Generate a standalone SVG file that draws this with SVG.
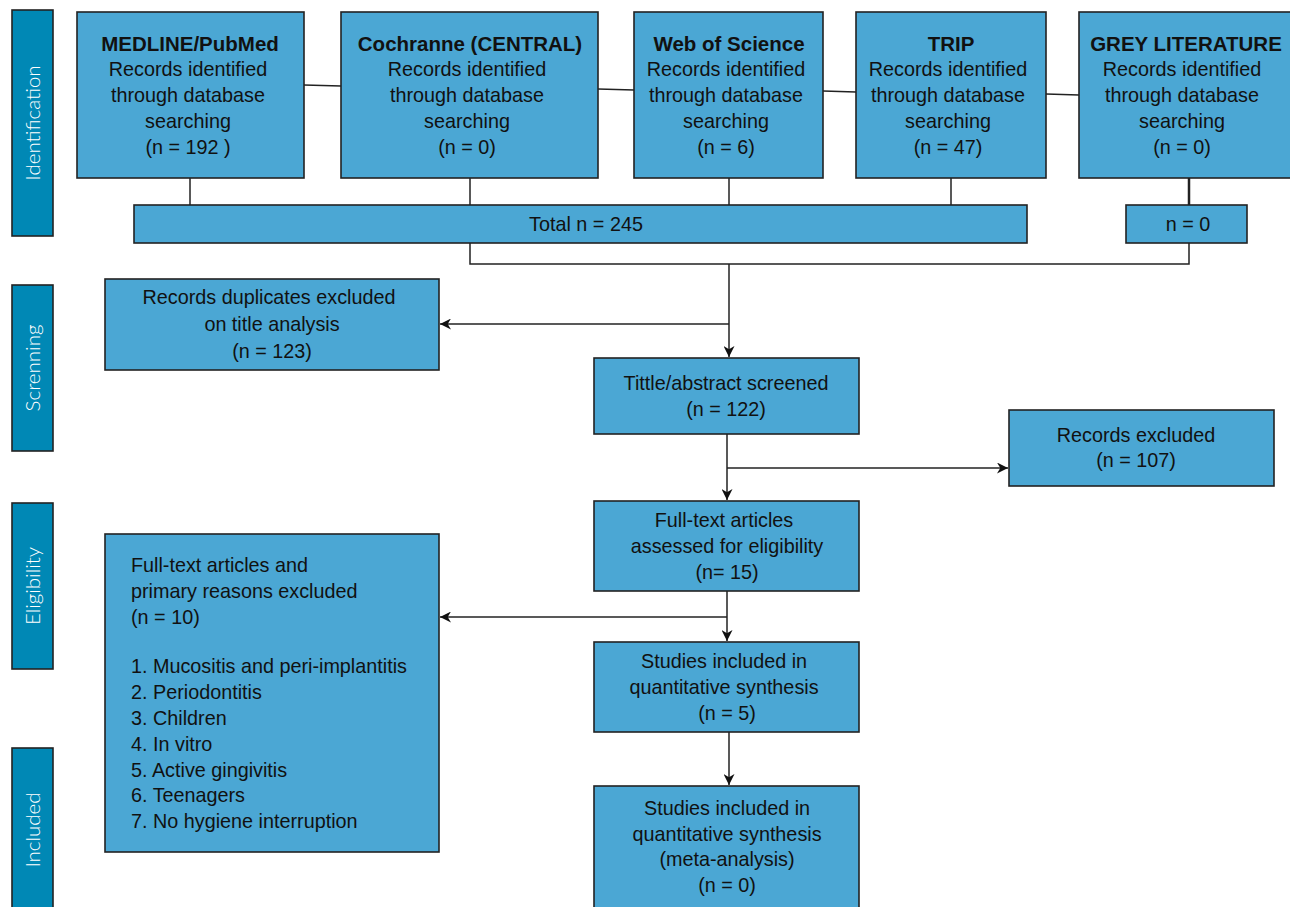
<svg xmlns="http://www.w3.org/2000/svg" width="1290" height="907" viewBox="0 0 1290 907">
<defs>
<marker id="ah" viewBox="0 0 10 10" refX="10" refY="5" markerWidth="12" markerHeight="11" markerUnits="userSpaceOnUse" orient="auto">
<path d="M0,0 L10,5 L0,10 L3,5 Z" fill="#111"/>
</marker>
</defs>
<style>
.box{fill:#4ba7d4;stroke:#222;stroke-width:1.6}
.side{fill:#0088b5;stroke:#222;stroke-width:1.6}
.t{font-family:"Liberation Sans",Arial,sans-serif;font-size:19.8px;fill:#111;text-anchor:middle}
.b{font-weight:bold;font-size:20.5px}
.l{text-anchor:start}
.s{font-family:"Lato","Liberation Sans",Arial,sans-serif;font-weight:300;font-size:20.5px;fill:#fff;text-anchor:middle}
.c{fill:none;stroke:#222;stroke-width:1.5}
.a{fill:none;stroke:#222;stroke-width:1.5;marker-end:url(#ah)}
</style>
<rect width="1290" height="907" fill="#fff"/>

<g id="phase-identification"><rect class="side" x="12" y="10" width="41" height="226"/><text class="s" transform="translate(40,123) rotate(-90)">Identification</text></g>
<g id="phase-screening"><rect class="side" x="12" y="285" width="41" height="166"/><text class="s" transform="translate(40,368) rotate(-90)">Screnning</text></g>
<g id="phase-eligibility"><rect class="side" x="12" y="503" width="41" height="166"/><text class="s" transform="translate(40,586) rotate(-90)">Eligibility</text></g>
<g id="phase-included"><rect class="side" x="12" y="748" width="41" height="166"/><text class="s" transform="translate(40,830) rotate(-90)">Included</text></g>

<g id="connectors">
<line class="c" x1="304" y1="85" x2="341" y2="86"/>
<line class="c" x1="598" y1="89" x2="634" y2="90"/>
<line class="c" x1="823" y1="91" x2="856" y2="92"/>
<line class="c" x1="1046" y1="94" x2="1079" y2="95"/>
<line class="c" x1="190" y1="178" x2="190" y2="205"/>
<line class="c" x1="470" y1="178" x2="470" y2="205"/>
<line class="c" x1="729" y1="178" x2="729" y2="205"/>
<line class="c" x1="951" y1="178" x2="951" y2="205"/>
<line class="c" x1="1189" y1="178" x2="1189" y2="205" style="stroke-width:2.5"/>
<polyline class="c" points="470,243 470,264 1189,264 1189,243"/>
<line class="a" x1="729" y1="264" x2="729" y2="357"/>
<line class="a" x1="729" y1="324" x2="440" y2="324"/>
<line class="a" x1="727" y1="434" x2="727" y2="500"/>
<line class="a" x1="727" y1="468" x2="1008" y2="468"/>
<line class="a" x1="727" y1="591" x2="727" y2="641"/>
<line class="a" x1="727" y1="617" x2="440" y2="617"/>
<line class="a" x1="729" y1="732" x2="729" y2="785"/>
</g>

<g id="medline"><rect class="box" x="77" y="12" width="227" height="166"/>
<text class="t b" x="190" y="51">MEDLINE/PubMed</text>
<text class="t" x="188" y="76">Records identified</text><text class="t" x="188" y="102">through database</text><text class="t" x="188" y="128">searching</text><text class="t" x="188" y="154">(n = 192 )</text></g>

<g id="cochrane"><rect class="box" x="341" y="12" width="257" height="166"/>
<text class="t b" x="470" y="51">Cochranne (CENTRAL)</text>
<text class="t" x="467" y="76">Records identified</text><text class="t" x="467" y="102">through database</text><text class="t" x="467" y="128">searching</text><text class="t" x="467" y="154">(n = 0)</text></g>

<g id="wos"><rect class="box" x="634" y="12" width="189" height="166"/>
<text class="t b" x="729" y="51">Web of Science</text>
<text class="t" x="726" y="76">Records identified</text><text class="t" x="726" y="102">through database</text><text class="t" x="726" y="128">searching</text><text class="t" x="726" y="154">(n = 6)</text></g>

<g id="trip"><rect class="box" x="856" y="12" width="190" height="166"/>
<text class="t b" x="951" y="51">TRIP</text>
<text class="t" x="948" y="76">Records identified</text><text class="t" x="948" y="102">through database</text><text class="t" x="948" y="128">searching</text><text class="t" x="948" y="154">(n = 47)</text></g>

<g id="grey"><rect class="box" x="1079" y="12" width="220" height="166"/>
<text class="t b" x="1186" y="51">GREY LITERATURE</text>
<text class="t" x="1182" y="76">Records identified</text><text class="t" x="1182" y="102">through database</text><text class="t" x="1182" y="128">searching</text><text class="t" x="1182" y="154">(n = 0)</text></g>

<g id="total"><rect class="box" x="134" y="205" width="893" height="38"/><text class="t" x="586" y="231">Total n = 245</text></g>
<g id="grey-total"><rect class="box" x="1126" y="205" width="121" height="38"/><text class="t" x="1188" y="231">n = 0</text></g>

<g id="duplicates"><rect class="box" x="105" y="279" width="334" height="91"/>
<text class="t" x="269" y="304">Records duplicates excluded</text><text class="t" x="272" y="331">on title analysis</text><text class="t" x="272" y="358">(n = 123)</text></g>

<g id="screened"><rect class="box" x="594" y="358" width="265" height="76"/>
<text class="t" x="726" y="390">Tittle/abstract screened</text><text class="t" x="726" y="416">(n = 122)</text></g>

<g id="excluded"><rect class="box" x="1009" y="410" width="265" height="76"/>
<text class="t" x="1136" y="442">Records excluded</text><text class="t" x="1136" y="467">(n = 107)</text></g>

<g id="fulltext"><rect class="box" x="594" y="501" width="265" height="90"/>
<text class="t" x="724" y="527">Full-text articles</text><text class="t" x="727" y="553">assessed for eligibility</text><text class="t" x="727" y="579">(n= 15)</text></g>

<g id="fulltext-excluded"><rect class="box" x="105" y="534" width="334" height="318"/>
<text class="t l" x="131" y="572">Full-text articles and</text>
<text class="t l" x="131" y="598">primary reasons excluded</text>
<text class="t l" x="131" y="624">(n = 10)</text>
<text class="t l" x="131" y="673">1. Mucositis and peri-implantitis</text>
<text class="t l" x="131" y="699">2. Periodontitis</text>
<text class="t l" x="131" y="725">3. Children</text>
<text class="t l" x="131" y="751">4. In vitro</text>
<text class="t l" x="131" y="777">5. Active gingivitis</text>
<text class="t l" x="131" y="802">6. Teenagers</text>
<text class="t l" x="131" y="828">7. No hygiene interruption</text></g>

<g id="included-qual"><rect class="box" x="594" y="642" width="265" height="90"/>
<text class="t" x="724" y="668">Studies included in</text><text class="t" x="724" y="694">quantitative synthesis</text><text class="t" x="727" y="720">(n = 5)</text></g>

<g id="included-meta"><rect class="box" x="594" y="786" width="265" height="130"/>
<text class="t" x="727" y="815">Studies included in</text><text class="t" x="727" y="841">quantitative synthesis</text><text class="t" x="727" y="866">(meta-analysis)</text><text class="t" x="727" y="892">(n = 0)</text></g>
</svg>
